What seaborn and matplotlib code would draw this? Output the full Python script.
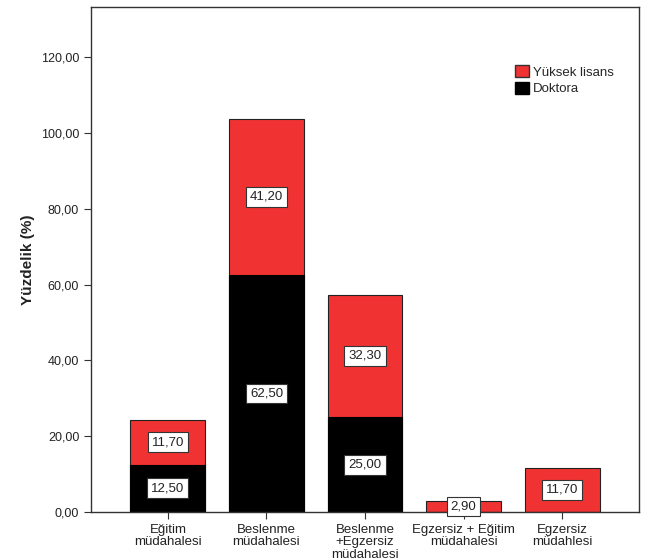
import matplotlib
matplotlib.use("Agg")
import matplotlib.pyplot as plt
import seaborn as sns
import pandas as pd
from matplotlib.patches import Patch

categories = ["Eğitim\nmüdahalesi", "Beslenme\nmüdahalesi", "Beslenme\n+Egzersiz\nmüdahalesi",
              "Egzersiz + Eğitim\nmüdahalesi", "Egzersiz\nmüdahlesi"]
doktora = [12.5, 62.5, 25.0, 0.0, 0.0]
yuksek_lisans = [11.7, 41.2, 32.3, 2.9, 11.7]
yticks = [0, 20, 40, 60, 80, 100, 120]

df = pd.DataFrame({"cat": categories, "Doktora": doktora, "Yüksek lisans": yuksek_lisans})
df["total"] = df["Doktora"] + df["Yüksek lisans"]

sns.set_style("white")
plt.rcParams["font.family"] = ["Liberation Sans", "DejaVu Sans"]

fig = plt.figure(figsize=(6.49, 5.6), dpi=100)
ax = fig.add_axes([91/649, 48/560, 548/649, 505/560])

RED = "#F03232"
sns.barplot(data=df, x="cat", y="total", color=RED, saturation=1, width=0.76,
            edgecolor="#222222", linewidth=0.8, ax=ax)
sns.barplot(data=df, x="cat", y="Doktora", color="black", saturation=1, width=0.76,
            edgecolor="black", linewidth=0.8, ax=ax)

box = dict(boxstyle="square,pad=0.3", fc="white", ec="#333333", lw=0.8)
for i, (d, y) in enumerate(zip(doktora, yuksek_lisans)):
    if d > 0:
        ax.text(i, d / 2, f"{d:.2f}".replace(".", ","), ha="center", va="center",
                fontsize=9.5, color="#222222", bbox=box, zorder=5)
    if y > 0:
        ax.text(i, d + y / 2, f"{y:.2f}".replace(".", ","), ha="center", va="center",
                fontsize=9.5, color="#222222", bbox=box, zorder=5)

ax.set_ylim(0, 133.2)
ax.set_xlim(-0.78, 4.78)
ax.set_yticks(yticks)
ax.set_yticklabels([f"{v:.2f}".replace(".", ",") for v in yticks], fontsize=9, color="#222222")
ax.set_xticks(range(len(categories)))
ax.set_xticklabels(categories, fontsize=9.5, color="#222222", linespacing=1.05)
ax.set_xlabel("")
ax.set_ylabel("Yüzdelik (%)", fontsize=11, fontweight="bold", color="#222222", labelpad=4)
ax.tick_params(axis="both", direction="out", length=5, width=0.8, color="#333333", bottom=True, left=True)
for s in ax.spines.values():
    s.set_color("#333333")
    s.set_linewidth(1.0)

handles = [Patch(facecolor=RED, edgecolor="#333333", label="Yüksek lisans"),
           Patch(facecolor="black", edgecolor="black", label="Doktora")]
ax.legend(handles=handles, loc="upper left", bbox_to_anchor=(0.765, 0.895), frameon=False,
          fontsize=9.5, handlelength=1.0, handleheight=1.0, handletextpad=0.3, labelspacing=0.25,
          borderaxespad=0)

fig.savefig("out.png", dpi=100)
